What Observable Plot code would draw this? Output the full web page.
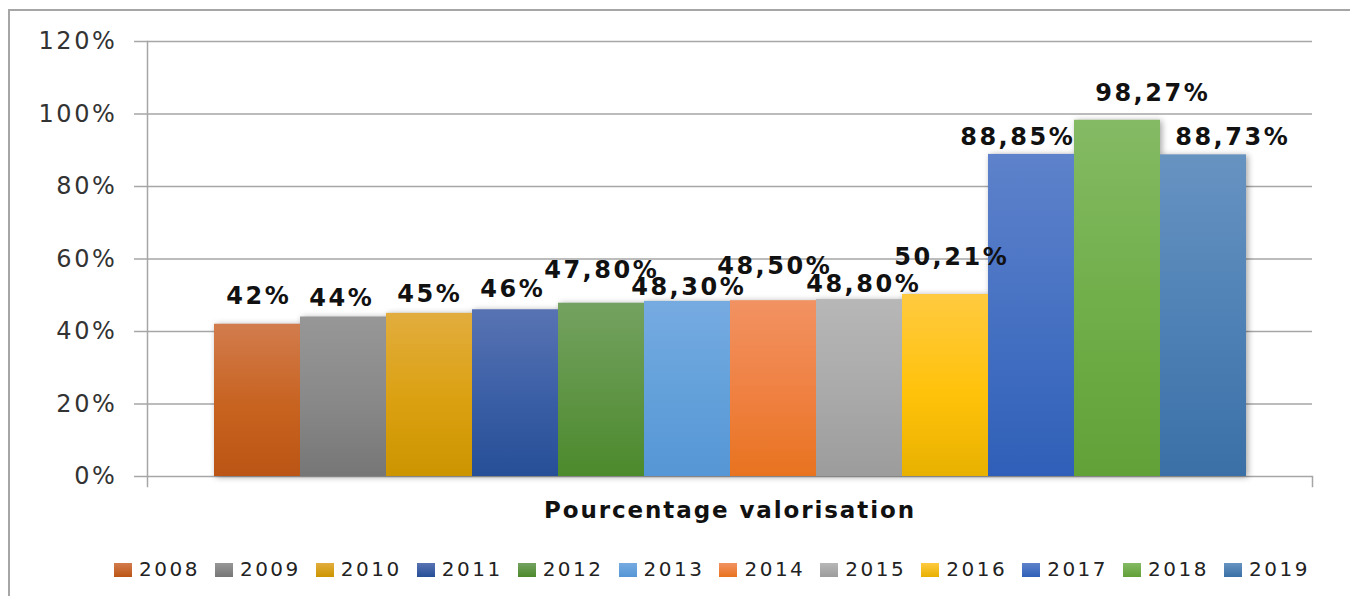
<!DOCTYPE html>
<html>
<head>
<meta charset="utf-8">
<script src="https://cdn.jsdelivr.net/npm/d3@7"></script>
<script src="https://cdn.jsdelivr.net/npm/@observablehq/plot@0.6"></script>
<style>
  body { margin: 0; background: #fff; }
  #wrap { position: relative; width: 1350px; height: 596px; overflow: hidden; background: #fff; font-family: "DejaVu Sans", sans-serif; }
  #frame { position: absolute; left: 8px; top: 9px; width: 1500px; height: 700px; border-left: 2px solid #a6a6a6; border-top: 2px solid #a6a6a6; }
  #chart { position: absolute; left: 0; top: 0; }
  #title { position: absolute; left: 430px; width: 600px; top: 499px; text-align: center; font-weight: bold; font-size: 23px; line-height: 23px; letter-spacing: 1.9px; color: #111; }
  #legend { position: absolute; left: 114px; top: 559px; display: flex; font-size: 20px; line-height: 21px; color: #222; letter-spacing: 2.5px; }
  .item { display: flex; align-items: center; margin-right: 15px; }
  .sw { width: 18px; height: 14px; margin-right: 7px; }
</style>
</head>
<body>
<div id="wrap">
  <div id="frame"></div>
  <div id="chart"></div>
  <div id="title"></div>
  <div id="legend"></div>
</div>
<script>
// ---- data ----
const years = ["2008","2009","2010","2011","2012","2013","2014","2015","2016","2017","2018","2019"];
const values = [0.42, 0.44, 0.45, 0.46, 0.478, 0.483, 0.485, 0.488, 0.5021, 0.8885, 0.9827, 0.8873];
const valueLabels = ["42%","44%","45%","46%","47,80%","48,30%","48,50%","48,80%","50,21%","88,85%","98,27%","88,73%"];
const yTicks = [0, 0.2, 0.4, 0.6, 0.8, 1.0, 1.2];
const axisTitle = "Pourcentage valorisation";

// ---- styles ----
const gradTop =    ["#d27c4d","#979797","#e2ad3e","#5873b3","#74a260","#76abe1","#f29262","#b7b7b7","#ffca40","#5e82cb","#84ba64","#6793c1"];
const gradMid =    ["#c7621f","#888888","#dba010","#3a5ea5","#5e9444","#62a0da","#ef8040","#a9a9a9","#ffc20a","#4470c2","#6fae48","#4d80b5"];
const gradBottom = ["#bb5515","#767676","#cc9500","#264f97","#4c8a2c","#5596d6","#e8731f","#9c9c9c","#e8b100","#2f5fb8","#62a038","#3a70a6"];
// label nudges (layout): [dx, baseline distance above bar top]
const nudge = [[0,20],[-3,11.5],[-1,11],[-4,12.5],[-1,25],[0,6],[0,27],[3,7.5],[5,29],[-15,9],[34,19],[28,10]];

const data = years.map((y, i) => ({year: y, value: values[i], label: valueLabels[i], idx: i}));
const gridColor = "#a6a6a6";

const labelMarks = data.map((d, i) => Plot.text([d], {
  x: "year", y: "value", text: "label",
  lineAnchor: "bottom", textAnchor: "middle",
  dx: nudge[i][0] + 1.2, dy: -nudge[i][1],
  fontSize: 24, fontWeight: "bold", fill: "#111"
}));

const chart = Plot.plot({
  width: 1350,
  height: 500,
  marginTop: 41,
  marginBottom: 24,
  marginLeft: 147,
  marginRight: 38,
  style: {fontFamily: "DejaVu Sans", background: "transparent", overflow: "visible"},
  x: {domain: years, paddingInner: 0, paddingOuter: 0.754, axis: null},
  y: {domain: [0, 1.2], axis: null},
  color: {type: "identity"},
  marks: [
    Plot.gridY(yTicks, {stroke: gridColor, strokeOpacity: 1, strokeWidth: 1.5}),
    Plot.axisY({ticks: yTicks, tickSize: 13, tickPadding: 17, tickFormat: d => Math.round(d * 100) + "%",
                stroke: gridColor, strokeWidth: 1.5, fill: "#333", fontSize: 24, label: null}),
    Plot.frame({anchor: "left", insetBottom: -10, stroke: gridColor, strokeWidth: 1.5}),
    Plot.frame({anchor: "right", insetTop: 435, insetBottom: -10, stroke: gridColor, strokeWidth: 1.5}),
    Plot.barY(data, {x: "year", y: "value", fill: d => `url(#grad${d.idx})`, inset: 0}),
    ...labelMarks
  ]
});

// gradient definitions
const defs = d3.create("svg:defs");
years.forEach((y, i) => {
  const g = defs.append("linearGradient").attr("id", "grad" + i)
    .attr("x1", 0).attr("y1", 0).attr("x2", 0).attr("y2", 1);
  g.append("stop").attr("offset", "0%").attr("stop-color", gradTop[i]);
  g.append("stop").attr("offset", "55%").attr("stop-color", gradMid[i]);
  g.append("stop").attr("offset", "100%").attr("stop-color", gradBottom[i]);
});
chart.insertBefore(defs.node(), chart.firstChild);

// styling tweaks
d3.select(chart).selectAll("g[aria-label='bar']").style("filter", "drop-shadow(2px 1px 3px rgba(0,0,0,0.35))");
d3.select(chart).selectAll("g[aria-label='y-axis tick label'] text, g[aria-label='y-axis tick label']").style("letter-spacing", "2.6px");
d3.select(chart).selectAll("g[aria-label='text']").style("letter-spacing", "2.5px");

document.getElementById("chart").appendChild(chart);
document.getElementById("title").textContent = axisTitle;

const legend = d3.select("#legend");
years.forEach((y, i) => {
  const it = legend.append("div").attr("class", "item");
  it.append("div").attr("class", "sw").style("background", `linear-gradient(${gradTop[i]}, ${gradBottom[i]})`);
  it.append("span").text(y);
});
</script>
</body>
</html>
